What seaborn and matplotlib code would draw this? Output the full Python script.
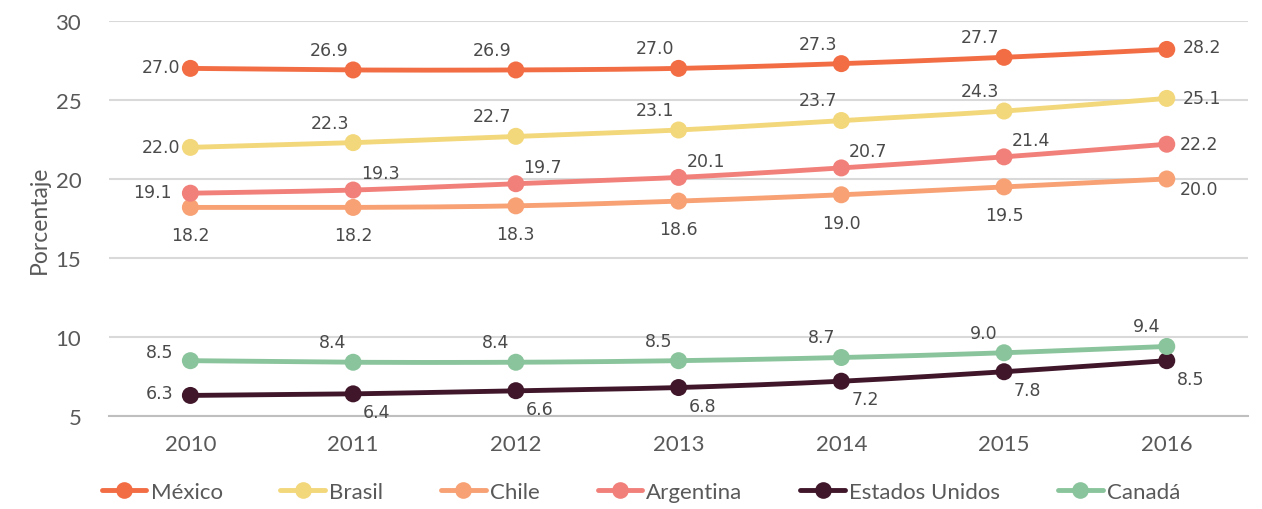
import numpy as np
import pandas as pd
import matplotlib
matplotlib.use("Agg")
import matplotlib.pyplot as plt
from matplotlib.lines import Line2D
import seaborn as sns

years = [2010, 2011, 2012, 2013, 2014, 2015, 2016]
mexico = [27.0, 26.9, 26.9, 27.0, 27.3, 27.7, 28.2]
brasil = [22.0, 22.3, 22.7, 23.1, 23.7, 24.3, 25.1]
chile = [18.2, 18.2, 18.3, 18.6, 19.0, 19.5, 20.0]
argentina = [19.1, 19.3, 19.7, 20.1, 20.7, 21.4, 22.2]
estados_unidos = [6.3, 6.4, 6.6, 6.8, 7.2, 7.8, 8.5]
canada = [8.5, 8.4, 8.4, 8.5, 8.7, 9.0, 9.4]

series = {
    "México": mexico,
    "Brasil": brasil,
    "Chile": chile,
    "Argentina": argentina,
    "Estados Unidos": estados_unidos,
    "Canadá": canada,
}
colors = {
    "México": "#F26D44",
    "Brasil": "#F3D77B",
    "Chile": "#F7A174",
    "Argentina": "#F2807A",
    "Estados Unidos": "#40172A",
    "Canadá": "#8AC49C",
}
# label placement for first, middle and last points: (dx, dy, ha) in points
placement = {
    "México": [(-7, 1, "right"), (-17, 14.5, "center"), (11.5, 2, "left")],
    "Brasil": [(-7, 0, "right"), (-17, 14.5, "center"), (11.5, 0, "left")],
    "Chile": [(0, -20, "center"), (0, -20, "center"), (9.5, -7, "left")],
    "Argentina": [(-13.5, 0.7, "right"), (19.5, 12, "center"), (9.5, 0, "left")],
    "Estados Unidos": [(-12, 1.5, "right"), (17, -13, "center"), (17, -13, "center")],
    "Canadá": [(-12, 6, "right"), (-14.5, 14.5, "center"), (-14.5, 14.5, "center")],
}

rows = []
for name, vals in series.items():
    for i, (yr, v) in enumerate(zip(years, vals)):
        rows.append({"pos": i, "año": yr, "valor": v, "país": name})
df = pd.DataFrame(rows)

sns.set_theme(style="white")
plt.rcParams["font.family"] = ["Lato", "DejaVu Sans"]

fig = plt.figure(figsize=(12.62, 5.10), dpi=100)
ax = fig.add_axes([0.0864, 0.1824, 0.9026, 0.7745])


def smooth(x, y, n=30):
    # Catmull-Rom spline through the points
    x = np.asarray(x, float)
    y = np.asarray(y, float)
    px = np.concatenate([[x[0]], x, [x[-1]]])
    py = np.concatenate([[y[0]], y, [y[-1]]])
    xs, ys = [], []
    t = np.linspace(0, 1, n)
    for i in range(1, len(px) - 2):
        for arr, out in ((px, xs), (py, ys)):
            p0, p1, p2, p3 = arr[i - 1], arr[i], arr[i + 1], arr[i + 2]
            seg = 0.5 * ((2 * p1) + (-p0 + p2) * t + (2 * p0 - 5 * p1 + 4 * p2 - p3) * t ** 2
                         + (-p0 + 3 * p1 - 3 * p2 + p3) * t ** 3)
            out.extend(seg if i == 1 else seg[1:])
    return np.array(xs), np.array(ys)


order = ["Chile", "Argentina", "Brasil", "México", "Estados Unidos", "Canadá"]
for name in order:
    sub = df[df["país"] == name]
    sx, sy = smooth(sub["pos"], sub["valor"])
    ax.plot(sx, sy, color=colors[name], lw=3.5, solid_capstyle="round", zorder=3)
    sns.scatterplot(data=sub, x="pos", y="valor", color=colors[name], s=150,
                    edgecolor="none", ax=ax, zorder=4, legend=False)

for name, vals in series.items():
    first, mid, last = placement[name]
    for i, v in enumerate(vals):
        dx, dy, ha = first if i == 0 else (last if i == len(vals) - 1 else mid)
        ax.annotate(f"{v:.1f}", (i, v), xytext=(dx, dy), textcoords="offset points",
                    ha=ha, va="center", fontsize=12.5, color="#4A4A4A",
                    family=["DejaVu Sans"], zorder=5)

ax.set_xlim(-0.5, 6.5)
ax.set_ylim(5, 30)
ax.set_yticks([5, 10, 15, 20, 25, 30])
ax.set_xticks(range(len(years)))
ax.set_xticklabels([str(y) for y in years])
ax.yaxis.grid(True, color="#D9D9D9", lw=1.5)
ax.xaxis.grid(False)
ax.set_axisbelow(True)
for side in ["top", "right", "left"]:
    ax.spines[side].set_visible(False)
ax.spines["bottom"].set_color("#BFBFBF")
ax.spines["bottom"].set_linewidth(1.5)
ax.tick_params(axis="both", length=0, labelsize=16, labelcolor="#595959")
ax.tick_params(axis="x", pad=13)
ax.tick_params(axis="y", pad=20)
ax.set_xlabel("")
ax.set_ylabel("Porcentaje", fontsize=16.5, color="#595959", labelpad=4)

handles = [Line2D([0], [0], color=colors[n], lw=3.5, marker="o", markersize=12,
                  markeredgewidth=0) for n in series]
fig.legend(handles, list(series.keys()), loc="center", bbox_to_anchor=(0.508, 0.033),
           ncol=6, frameon=False, fontsize=16, labelcolor="#595959",
           handlelength=2.0, handletextpad=0.2, columnspacing=2.6)

fig.savefig("out.png", dpi=100)
